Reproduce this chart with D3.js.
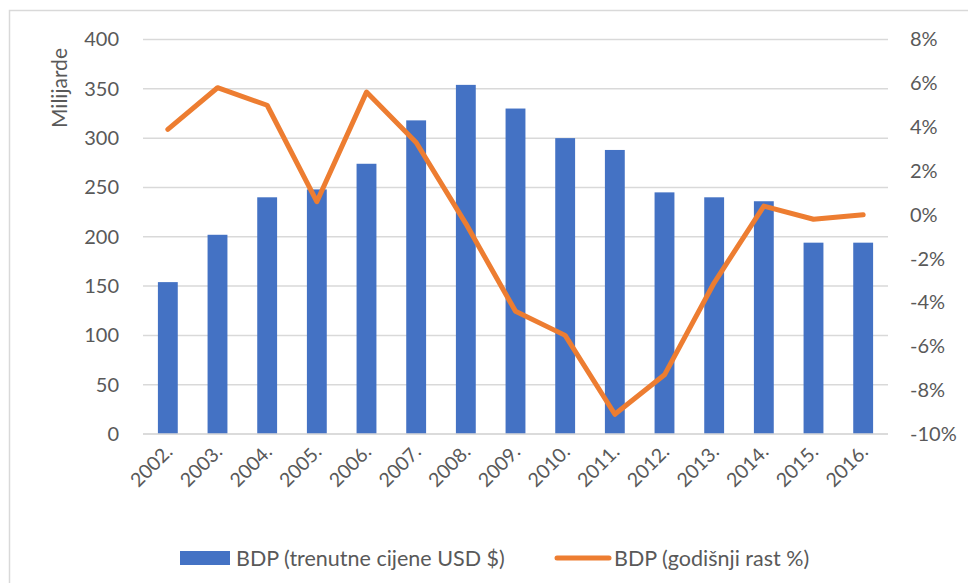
<!DOCTYPE html>
<html><head><meta charset="utf-8">
<script src="https://cdn.jsdelivr.net/npm/d3@7"></script>
<style>
html,body{margin:0;padding:0;background:#fff;}
svg{display:block;font-family:Lato, "Open Sans", sans-serif;}
</style></head>
<body><svg id="c" width="968" height="583"></svg>
<script>
const years = ["2002.","2003.","2004.","2005.","2006.","2007.","2008.","2009.","2010.","2011.","2012.","2013.","2014.","2015.","2016."];
const gdpValues = [154,202,240,248,274,318,354,330,300,288,245,240,236,194,194];
const growthValues = [3.9,5.8,5.0,0.6,5.6,3.3,-0.4,-4.4,-5.5,-9.1,-7.3,-3.1,0.4,-0.2,0.0];
const leftTicks = [0,50,100,150,200,250,300,350,400];
const rightTicks = [-10,-8,-6,-4,-2,0,2,4,6,8];
const seriesNames = ["BDP (trenutne cijene USD $)","BDP (godišnji rast %)"];
const axisTitle = "Milijarde";

const svg = d3.select("#c");
const W = 968, H = 583;
const pL = 143, pR = 888, pT = 39.5, pB = 434;
const textColor = "#595959";

svg.append("rect").attr("x",9.5).attr("y",10.5).attr("width",W).attr("height",H)
  .attr("fill","#fff").attr("stroke","#d9d9d9").attr("stroke-width",1.5);

const x = d3.scaleBand().domain(years).range([pL,pR]).paddingInner(0.6).paddingOuter(0.3);
const yL = d3.scaleLinear().domain([0,400]).range([pB,pT]);
const yR = d3.scaleLinear().domain([-10,8]).range([pB,pT]);

// gridlines
svg.append("g").selectAll("line").data(leftTicks).join("line")
  .attr("x1",pL).attr("x2",pR)
  .attr("y1",d=>yL(d)).attr("y2",d=>yL(d))
  .attr("stroke","#d9d9d9").attr("stroke-width",1.5);

// left axis labels
const gl = svg.append("g").attr("transform",`translate(${pL-24},0)`)
  .call(d3.axisLeft(yL).tickValues(leftTicks).tickSize(0).tickPadding(0));
gl.select(".domain").remove();
gl.selectAll("text").attr("fill",textColor).style("font-size","20px").style("font-family","Lato");

// right axis labels
const gr = svg.append("g").attr("transform",`translate(${pR+22},0)`)
  .call(d3.axisRight(yR).tickValues(rightTicks).tickSize(0).tickPadding(0)
    .tickFormat(d=>(d<0?"-":"")+Math.abs(d)+"%"));
gr.select(".domain").remove();
gr.selectAll("text").attr("fill",textColor).style("font-size","20px").style("font-family","Lato");

// bars
svg.append("g").selectAll("rect").data(gdpValues).join("rect")
  .attr("x",(d,i)=>x(years[i])).attr("width",x.bandwidth())
  .attr("y",d=>yL(d)).attr("height",d=>yL(0)-yL(d))
  .attr("fill","#4472c4");

// baseline
svg.append("line").attr("x1",pL).attr("x2",pR).attr("y1",yL(0)).attr("y2",yL(0))
  .attr("stroke","#d9d9d9").attr("stroke-width",1.5);

// line
const line = d3.line().x((d,i)=>x(years[i])+x.bandwidth()/2).y(d=>yR(d));
svg.append("path").datum(growthValues).attr("d",line)
  .attr("fill","none").attr("stroke","#ed7d31").attr("stroke-width",5)
  .attr("stroke-linejoin","round").attr("stroke-linecap","round");

// x axis labels
const gx = svg.append("g").attr("transform",`translate(0,${pB})`)
  .call(d3.axisBottom(x).tickSize(0).tickPadding(0));
gx.select(".domain").remove();
gx.selectAll("text").attr("fill",textColor).style("font-size","19.5px").style("font-family","Lato")
  .attr("text-anchor","end").attr("dy",null).attr("y",0)
  .attr("transform","translate(6,19) rotate(-45)");

// axis title
svg.append("text").attr("transform","translate(67,88) rotate(-90)")
  .attr("text-anchor","middle").attr("fill",textColor)
  .style("font-size","21px").text(axisTitle);

// legend
const lg = svg.append("g");
lg.append("rect").attr("x",180).attr("y",551).attr("width",50).attr("height",14).attr("fill","#4472c4");
lg.append("text").attr("x",236).attr("y",558).attr("dy","0.35em").attr("fill",textColor)
  .style("font-size","21.5px").text(seriesNames[0]);
lg.append("line").attr("x1",557).attr("x2",609).attr("y1",558).attr("y2",558)
  .attr("stroke","#ed7d31").attr("stroke-width",5).attr("stroke-linecap","round");
lg.append("text").attr("x",614).attr("y",558).attr("dy","0.35em").attr("fill",textColor)
  .style("font-size","21.5px").text(seriesNames[1]);
</script></body></html>
